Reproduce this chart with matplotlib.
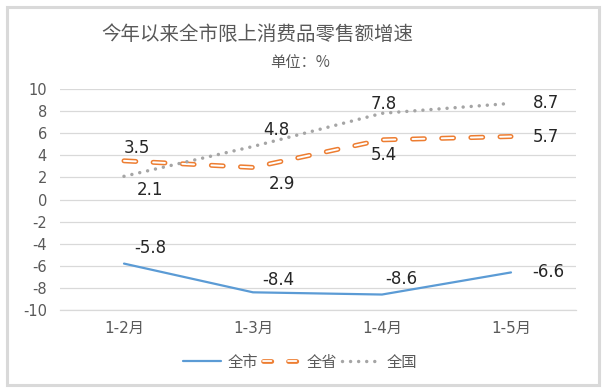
import matplotlib
matplotlib.use("Agg")
import matplotlib.pyplot as plt
from matplotlib.patches import Rectangle
from matplotlib.lines import Line2D
from matplotlib.legend_handler import HandlerTuple

plt.rcParams['font.family'] = ['DejaVu Sans', 'Noto Sans CJK SC']
plt.rcParams['lines.scale_dashes'] = False
plt.rcParams['axes.unicode_minus'] = False

# ---- data ----
categories = ['1-2月', '1-3月', '1-4月', '1-5月']
city = [-5.8, -8.4, -8.6, -6.6]       # 全市
province = [3.5, 2.9, 5.4, 5.7]       # 全省
nation = [2.1, 4.8, 7.8, 8.7]         # 全国
series_names = ['全市', '全省', '全国']
yticks = [-10, -8, -6, -4, -2, 0, 2, 4, 6, 8, 10]
title = '今年以来全市限上消费品零售额增速'
subtitle = '单位：%'

# ---- styles / label offsets (points) ----
city_off = [(19, 11), (18, 9), (14, 11), (27, 0)]
prov_off = [(9, 9), (21, -12), (1, -11), (25, 0)]
nat_off = [(19, -10), (17, 12), (1, 7), (25, 0)]

BLUE = '#5B9BD5'
ORANGE = '#ED7D31'
GRAY = '#A5A5A5'
GRID = '#D9D9D9'
TXT = '#595959'
CJK = ['Noto Sans CJK SC', 'DejaVu Sans']

W, H = 606, 391
fig = plt.figure(figsize=(W / 100, H / 100), dpi=100)
ax = fig.add_axes([59.5 / W, 81 / H, 516 / W, 221 / H])

x = list(range(len(categories)))

l_city, = ax.plot(x, city, color=BLUE, lw=1.6, solid_capstyle='round', zorder=3)
ax.plot(x, province, color=ORANGE, lw=3.6, linestyle=(0, (8.5, 12.5)),
        dash_capstyle='round', zorder=4)
ax.plot(x, province, color='white', lw=1.4, linestyle=(0, (8.5, 12.5)),
        dash_capstyle='round', zorder=5)
l_nat, = ax.plot(x, nation, color=GRAY, lw=2.5, linestyle=(0, (0.01, 5.8)),
                 dash_capstyle='round', zorder=6)

# legend proxies for hollow dashed line
p_o = Line2D([], [], color=ORANGE, lw=3.4, linestyle=(0, (6, 12)),
             dash_capstyle='round')
p_w = Line2D([], [], color='white', lw=1.3, linestyle=(0, (6, 12)),
             dash_capstyle='round')

def labels(vals, offs):
    for xi, v, (dx, dy) in zip(x, vals, offs):
        ax.annotate(f'{v}', (xi, v), xytext=(dx, dy), textcoords='offset points',
                    ha='center', va='center', fontsize=12, color='#262626',
                    zorder=7)

labels(city, city_off)
labels(province, prov_off)
labels(nation, nat_off)

ax.set_xlim(-0.5, len(categories) - 0.5)
ax.set_ylim(-10, 10)
ax.set_yticks(yticks)
ax.set_xticks(x)
ax.set_xticklabels(categories)
ax.tick_params(axis='both', length=0, colors=TXT)
ax.tick_params(axis='y', pad=9, labelsize=10.5)
ax.tick_params(axis='x', pad=8, labelsize=11)
ax.grid(axis='y', color=GRID, lw=0.9)
ax.set_axisbelow(True)
for s in ['top', 'right', 'left']:
    ax.spines[s].set_visible(False)
ax.spines['bottom'].set_color(GRID)
ax.spines['bottom'].set_linewidth(0.9)

fig.text(257 / W, 1 - 34 / H, title, ha='center', va='center', fontsize=14,
         color=TXT, family=CJK)
fig.text(300 / W, 1 - 62 / H, subtitle, ha='center', va='center', fontsize=11,
         color=TXT, family=CJK)

leg = fig.legend([l_city, (p_o, p_w), l_nat], series_names,
                 loc='center', bbox_to_anchor=(300 / W, 1 - 362 / H), ncol=3,
                 frameon=False, handlelength=2.5, columnspacing=0.3,
                 handletextpad=0.4,
                 handler_map={tuple: HandlerTuple(ndivide=1)},
                 prop={'family': CJK, 'size': 11})
for t in leg.get_texts():
    t.set_color(TXT)

fig.patches.append(Rectangle((6.5 / W, 6.5 / H), 592.5 / W, 378 / H,
                             transform=fig.transFigure, fill=False,
                             edgecolor=GRID, lw=2.2))

fig.savefig('out.png', dpi=100)
